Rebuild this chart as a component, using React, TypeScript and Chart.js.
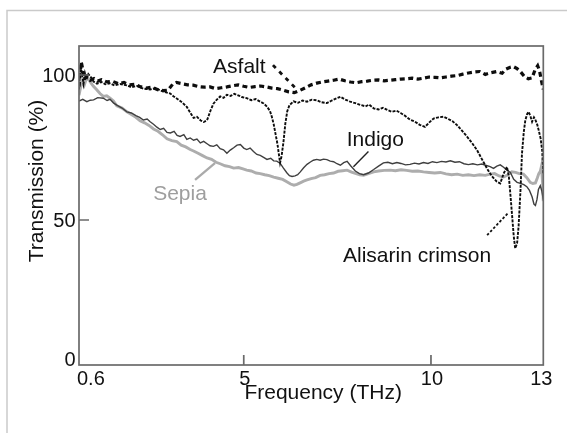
import React, { useEffect, useRef } from "react";
import { Chart, registerables } from "chart.js";

Chart.register(...registerables);

// ---------- data ----------
const xTickValues = [0.6, 5, 10, 13];
const xTickLabels = ["0.6", "5", "10", "13"];
const yTickValues = [0, 50, 100];
const yTickLabels = ["0", "50", "100"];
const xTitle = "Frequency (THz)";
const yTitle = "Transmission (%)";
const seriesNames = ["Asfalt", "Alisarin crimson", "Indigo", "Sepia"];

const freqAsfalt = [0.6,0.63,0.66,0.7,0.74,0.8,0.9,1.0,1.1,1.2,1.35,1.5,1.65,1.8,1.95,2.1,2.25,2.4,2.55,2.7,2.85,2.98,3.1,3.2,3.35,3.5,3.65,3.8,3.95,4.1,4.25,4.4,4.55,4.7,4.85,5.0,5.15,5.3,5.45,5.6,5.75,5.9,6.05,6.2,6.35,6.5,6.65,6.8,6.95,7.1,7.25,7.4,7.55,7.7,7.85,8.0,8.15,8.3,8.45,8.6,8.75,8.9,9.05,9.2,9.35,9.5,9.65,9.8,9.95,10.1,10.25,10.4,10.55,10.7,10.85,11.0,11.15,11.3,11.45,11.6,11.75,11.9,12.0,12.1,12.2,12.3,12.4,12.5,12.6,12.7,12.78,12.85,12.9,12.95,13.0];
const valsAsfalt = [96,101,104.5,102,98.5,99.5,98.2,98.8,97.9,98.4,97.6,97.8,97.0,97.4,96.6,96.8,95.9,95.5,95.8,94.9,94.6,94.8,96.8,97.4,97.0,96.6,96.5,96.0,95.8,95.9,95.3,95.6,95.9,96.3,96.6,96.1,95.7,96.0,96.2,95.9,95.5,95.3,94.8,94.2,93.9,94.7,95.6,96.6,97.2,97.6,97.9,98.2,98.6,98.0,97.6,97.3,97.7,97.9,98.2,98.3,98.0,98.2,98.4,98.6,98.7,98.9,98.6,98.9,99.3,99.2,99.0,99.3,99.6,99.8,100.3,100.7,101.0,101.2,100.2,100.8,101.2,100.6,102.0,102.6,102.9,102.2,101.0,99.4,98.7,99.0,101.8,103.2,101.4,98.0,95.0];

const freqAlisarin = [0.6,0.62,0.65,0.68,0.72,0.76,0.8,0.85,0.92,0.99,1.08,1.2,1.3,1.43,1.55,1.7,1.88,2.0,2.15,2.32,2.5,2.65,2.77,2.9,3.04,3.12,3.21,3.35,3.48,3.58,3.66,3.75,3.85,3.93,4.02,4.07,4.12,4.19,4.28,4.37,4.46,4.55,4.65,4.75,4.85,4.95,5.08,5.2,5.32,5.44,5.53,5.62,5.7,5.75,5.8,5.85,5.9,5.94,5.97,6.01,6.06,6.11,6.16,6.22,6.33,6.45,6.57,6.69,6.82,6.95,7.08,7.22,7.35,7.49,7.58,7.7,7.84,7.98,8.11,8.25,8.35,8.47,8.6,8.72,8.84,8.96,9.08,9.19,9.3,9.44,9.56,9.7,9.84,9.95,10.07,10.2,10.34,10.45,10.57,10.69,10.8,10.96,11.1,11.23,11.36,11.49,11.62,11.76,11.85,11.94,12.03,12.08,12.12,12.17,12.21,12.25,12.3,12.34,12.39,12.43,12.48,12.52,12.57,12.61,12.66,12.7,12.75,12.79,12.84,12.88,12.93,12.97,13.0];
const valsAlisarin = [95,99,103.5,100,97,100.5,98.5,100.3,99.2,97.7,97.0,97.6,96.8,97.1,96.4,96.9,96.4,95.8,96.2,95.3,95.0,95.5,94.7,94.1,93.6,92.7,91.9,90.6,89.0,86.8,85.2,85.6,84.3,83.8,84.4,86.2,88.0,90.1,91.5,92.6,92.1,93.2,92.8,93.5,93.0,92.4,92.0,91.3,91.7,90.8,90.2,89.1,87.6,85.6,83.0,79.6,76.2,72.5,69.8,72.0,76.8,83.2,87.4,89.6,90.9,90.4,91.2,90.8,91.5,91.3,90.6,90.3,91.2,92.0,92.5,91.6,90.8,90.3,89.7,89.2,89.8,88.5,88.1,88.7,87.9,87.3,87.7,86.9,86.0,84.6,84.0,82.8,82.1,83.6,85.0,85.4,85.6,84.9,84.1,82.8,81.2,78.8,76.5,74.1,71.0,67.9,65.2,63.2,62.6,66.0,68.3,65.0,59.0,51.0,44.5,40.2,42.0,47.8,60.0,72.8,80.5,84.4,86.6,87.3,85.6,83.9,85.4,84.5,82.8,80.8,78.0,74.0,66.0];

const freqIndigo = [0.6,0.7,0.81,0.9,0.99,1.1,1.25,1.35,1.43,1.52,1.61,1.75,1.88,2.0,2.12,2.22,2.32,2.42,2.5,2.59,2.68,2.77,2.86,2.95,3.04,3.14,3.22,3.3,3.4,3.48,3.57,3.66,3.75,3.84,3.93,4.02,4.1,4.19,4.28,4.37,4.46,4.55,4.64,4.73,4.82,4.91,5.0,5.08,5.17,5.26,5.35,5.44,5.53,5.62,5.72,5.8,5.88,5.97,6.06,6.15,6.22,6.29,6.37,6.44,6.51,6.6,6.69,6.78,6.86,6.95,7.04,7.13,7.22,7.31,7.4,7.49,7.58,7.67,7.76,7.86,7.98,8.09,8.2,8.33,8.47,8.6,8.73,8.85,8.97,9.09,9.2,9.32,9.44,9.56,9.68,9.8,9.92,10.04,10.16,10.28,10.4,10.52,10.64,10.76,10.88,11.0,11.12,11.24,11.36,11.48,11.58,11.67,11.76,11.85,11.94,12.03,12.12,12.21,12.3,12.39,12.48,12.56,12.63,12.7,12.75,12.79,12.83,12.87,12.92,12.96,13.0];
const valsIndigo = [91.0,91.6,90.8,91.3,91.4,92.2,92.0,91.2,91.6,90.4,89.6,88.6,87.3,86.9,86.0,85.4,84.5,84.8,83.9,83.0,82.0,81.2,81.6,80.2,80.0,80.6,79.2,78.8,79.4,77.8,78.3,77.5,77.9,76.6,77.1,76.3,75.6,75.4,75.9,74.6,74.2,73.0,74.1,74.9,75.8,76.0,74.8,74.3,74.8,73.6,72.6,72.3,71.6,70.9,71.3,70.4,70.3,69.6,67.9,66.3,65.3,65.0,65.2,65.6,66.6,68.0,69.2,70.0,70.6,70.9,70.6,71.0,70.8,70.3,70.1,69.4,68.9,69.8,70.2,68.6,66.9,66.0,65.6,66.2,67.4,68.6,69.7,69.9,69.4,69.8,69.5,69.0,69.2,69.6,69.3,69.8,69.5,70.1,69.8,70.2,70.0,70.4,69.9,70.1,69.4,69.1,69.4,69.0,69.3,68.8,68.4,67.8,68.6,69.0,68.2,67.2,66.4,64.0,63.0,62.6,62.2,61.5,60.2,58.0,55.5,55.0,57.0,60.5,61.8,60.0,57.0];

const freqSepia = [0.6,0.64,0.69,0.74,0.78,0.83,0.9,0.98,1.08,1.16,1.25,1.34,1.43,1.52,1.61,1.75,1.88,2.0,2.12,2.23,2.35,2.47,2.59,2.71,2.83,2.95,3.08,3.21,3.33,3.45,3.57,3.66,3.78,3.9,4.02,4.14,4.26,4.37,4.5,4.62,4.73,4.86,4.98,5.08,5.2,5.33,5.44,5.56,5.68,5.8,5.92,6.04,6.15,6.25,6.34,6.42,6.52,6.6,6.69,6.8,6.92,7.04,7.16,7.28,7.4,7.52,7.64,7.76,7.88,8.0,8.1,8.2,8.33,8.47,8.6,8.75,8.91,9.05,9.2,9.35,9.5,9.65,9.8,9.95,10.1,10.25,10.4,10.55,10.7,10.85,11.0,11.15,11.3,11.45,11.58,11.7,11.82,11.94,12.06,12.16,12.26,12.36,12.47,12.56,12.65,12.72,12.79,12.84,12.88,12.92,12.95,12.98,13.0];
const valsSepia = [93.0,95.5,97.8,96.5,98.0,99.0,97.6,96.2,94.8,93.6,92.6,92.8,92.0,91.0,89.4,88.6,87.3,86.4,85.4,84.2,83.5,82.6,81.4,80.6,79.4,78.0,77.4,77.0,75.8,75.2,74.3,73.8,73.0,72.2,71.4,70.9,69.9,69.4,68.7,68.4,67.9,68.1,67.6,67.2,66.9,66.2,66.0,65.6,65.3,64.8,64.4,64.0,63.2,62.4,62.0,62.3,62.9,63.4,63.8,64.3,64.6,65.4,65.6,66.0,66.2,66.8,67.0,67.2,66.5,66.0,65.6,65.4,66.0,66.6,66.9,67.1,67.2,67.0,67.3,67.1,66.8,66.9,66.6,66.4,66.2,66.4,65.9,65.6,65.8,65.4,65.6,65.3,65.6,65.4,65.8,66.0,65.2,64.8,65.6,66.6,66.4,66.0,65.8,64.6,63.0,62.6,62.8,64.5,66.0,66.8,68.5,63.0,56.5];

// ---------- helpers ----------
const FONT = '"Liberation Sans", Arial, Helvetica, sans-serif';
const toPoints = (xs: number[], ys: number[]) => xs.map((x, i) => ({ x, y: ys[i] }));

const overlayPlugin = {
  id: "overlay",
  beforeDraw(chart: any) {
    const ctx = chart.ctx;
    ctx.save();
    ctx.strokeStyle = "#cacaca";
    ctx.lineWidth = 1.5;
    ctx.beginPath();
    ctx.moveTo(7, 440);
    ctx.lineTo(7, 10.5);
    ctx.lineTo(580, 10.5);
    ctx.stroke();
    ctx.restore();
  },
  afterDraw(chart: any) {
    const { ctx, chartArea: ca } = chart;
    const xs = chart.scales.x;
    const ys = chart.scales.y;
    const X = (v: number) => xs.getPixelForValue(v);
    const Y = (v: number) => ys.getPixelForValue(v);
    ctx.save();

    // frame
    ctx.strokeStyle = "#6a6a6a";
    ctx.lineWidth = 1.7;
    ctx.strokeRect(ca.left, ca.top, ca.right - ca.left, ca.bottom - ca.top);

    // inward tick marks
    ctx.beginPath();
    xTickValues.forEach((v) => {
      if (v > xs.min && v < xs.max) {
        const px = X(v);
        ctx.moveTo(px, ca.bottom);
        ctx.lineTo(px, ca.bottom - 10);
      }
    });
    yTickValues.forEach((v) => {
      if (v > ys.min && v < ys.max) {
        const py = Y(v);
        ctx.moveTo(ca.left, py);
        ctx.lineTo(ca.left + 10, py);
      }
    });
    ctx.stroke();

    // tick labels
    ctx.fillStyle = "#111";
    ctx.font = "20px " + FONT;
    ctx.textBaseline = "alphabetic";
    xTickValues.forEach((v, i) => {
      const px = X(v);
      if (i === 0) {
        ctx.textAlign = "left";
        ctx.fillText(xTickLabels[i], px - 2, ca.bottom + 19.5);
      } else if (i === xTickValues.length - 1) {
        ctx.textAlign = "center";
        ctx.fillText(xTickLabels[i], px - 2, ca.bottom + 19.5);
      } else {
        ctx.textAlign = "center";
        ctx.fillText(xTickLabels[i], px + 1, ca.bottom + 19.5);
      }
    });
    ctx.textAlign = "right";
    yTickValues.forEach((v, i) => {
      const py = Y(v);
      ctx.fillText(yTickLabels[i], ca.left - 3.5, i === 0 ? py + 1 : py + 7);
    });

    // axis titles
    ctx.font = "21px " + FONT;
    ctx.textAlign = "center";
    ctx.fillText(xTitle, (ca.left + ca.right) / 2 + 12, ca.bottom + 34);
    ctx.save();
    ctx.translate(43.3, 181);
    ctx.rotate(-Math.PI / 2);
    ctx.fillText(yTitle, 0, 0);
    ctx.restore();

    // series labels
    ctx.textAlign = "left";
    ctx.fillStyle = "#111";
    ctx.fillText(seriesNames[0], X(4.18), Y(100.7));
    ctx.fillText(seriesNames[2], X(7.75), Y(75.5));
    ctx.fillText(seriesNames[1], X(7.65), Y(35.5));
    ctx.fillStyle = "#9e9e9e";
    ctx.fillText(seriesNames[3], X(2.58), Y(56.9));

    // leader lines
    const leader = (x1: number, y1: number, x2: number, y2: number, color: string, w: number, dash: number[]) => {
      ctx.beginPath();
      ctx.strokeStyle = color;
      ctx.lineWidth = w;
      ctx.setLineDash(dash);
      ctx.moveTo(X(x1), Y(y1));
      ctx.lineTo(X(x2), Y(y2));
      ctx.stroke();
      ctx.setLineDash([]);
    };
    leader(5.78, 103.4, 6.42, 95.0, "#111", 2.8, [4, 5]);
    leader(8.33, 73.6, 7.93, 68.4, "#222", 1.4, []);
    leader(4.23, 69.6, 3.7, 63.8, "#aaaaaa", 2.3, []);
    leader(11.5, 44.8, 12.06, 52.4, "#111", 1.8, [2.5, 2]);

    ctx.restore();
  },
};

export default function App() {
  const canvasRef = useRef<HTMLCanvasElement | null>(null);

  useEffect(() => {
    if (!canvasRef.current) return;
    const chart = new Chart(canvasRef.current, {
      type: "line",
      data: {
        datasets: [
          {
            label: seriesNames[0],
            data: toPoints(freqAsfalt, valsAsfalt),
            borderColor: "#0d0d0d",
            borderWidth: 3.2,
            borderDash: [5, 3.5],
            pointRadius: 0,
            fill: false,
          },
          {
            label: seriesNames[1],
            data: toPoints(freqAlisarin, valsAlisarin),
            borderColor: "#0d0d0d",
            borderWidth: 1.9,
            borderDash: [3, 1.3],
            pointRadius: 0,
            fill: false,
          },
          {
            label: seriesNames[2],
            data: toPoints(freqIndigo, valsIndigo),
            borderColor: "#3f3f3f",
            borderWidth: 1.4,
            pointRadius: 0,
            fill: false,
          },
          {
            label: seriesNames[3],
            data: toPoints(freqSepia, valsSepia),
            borderColor: "#adadad",
            borderWidth: 2.9,
            pointRadius: 0,
            fill: false,
          },
        ],
      },
      options: {
        responsive: false,
        animation: false,
        devicePixelRatio: 1,
        layout: { padding: { left: 79, right: 23.7, top: 46, bottom: 68 } },
        plugins: { legend: { display: false }, tooltip: { enabled: false } },
        elements: { line: { tension: 0 } },
        scales: {
          x: { type: "linear", min: 0.6, max: 13, display: false },
          y: { type: "linear", min: 0, max: 110, display: false },
        },
      },
      plugins: [overlayPlugin],
    } as any);
    return () => chart.destroy();
  }, []);

  return (
    <div style={{ position: "fixed", left: 0, top: 0, width: 567, height: 433, background: "#fff" }}>
      <canvas ref={canvasRef} width={567} height={433} style={{ width: 567, height: 433, display: "block" }} />
    </div>
  );
}
